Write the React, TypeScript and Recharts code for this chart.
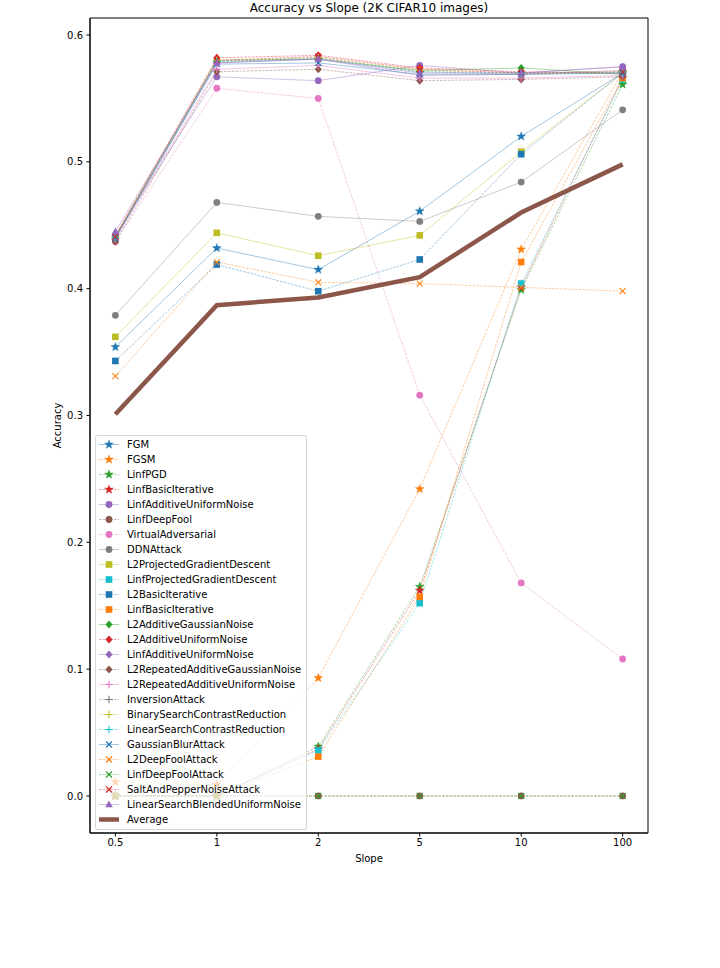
import React from 'react';
import { LineChart, Line, XAxis, YAxis, Legend, ReferenceArea } from 'recharts';

const slopeLabels = ['0.5', '1', '2', '5', '10', '100'];

const fgm = [0.354, 0.432, 0.415, 0.461, 0.520, 0.570];
const fgsm = [0.011, 0.009, 0.093, 0.242, 0.431, 0.571];
const linfPgd = [0, 0, 0.039, 0.165, 0.399, 0.561];
const linfBasicIterStar = [0, 0, 0.037, 0.162, 0.401, 0.566];
const linfAddUniformCircle = [0.442, 0.567, 0.564, 0.576, 0.570, 0.575];
const linfDeepFool = [0, 0, 0, 0, 0, 0];
const virtualAdversarial = [0.437, 0.558, 0.550, 0.316, 0.168, 0.108];
const ddnAttack = [0.379, 0.468, 0.457, 0.453, 0.484, 0.541];
const l2Pgd = [0.362, 0.444, 0.426, 0.442, 0.508, 0.570];
const linfPgdSquare = [0, 0, 0.036, 0.152, 0.404, 0.565];
const l2BasicIter = [0.343, 0.419, 0.398, 0.423, 0.506, 0.570];
const linfBasicIterSquare = [0, 0, 0.031, 0.157, 0.421, 0.566];
const l2AddGauss = [0.441, 0.580, 0.581, 0.572, 0.574, 0.569];
const l2AddUniform = [0.442, 0.582, 0.584, 0.574, 0.571, 0.570];
const linfAddUniformDiamond = [0.440, 0.578, 0.581, 0.568, 0.569, 0.572];
const l2RepGauss = [0.437, 0.571, 0.573, 0.564, 0.565, 0.567];
const l2RepUniform = [0.439, 0.573, 0.576, 0.566, 0.566, 0.568];
const inversion = [0.440, 0.579, 0.582, 0.571, 0.569, 0.570];
const binaryContrast = [0.441, 0.580, 0.582, 0.572, 0.570, 0.571];
const linearContrast = [0.440, 0.579, 0.581, 0.571, 0.570, 0.570];
const gaussBlur = [0.440, 0.577, 0.578, 0.569, 0.569, 0.570];
const l2DeepFoolAttack = [0.331, 0.421, 0.405, 0.404, 0.401, 0.398];
const linfDeepFoolAttack = [0, 0, 0, 0, 0, 0];
const saltPepper = [0.441, 0.580, 0.583, 0.573, 0.570, 0.571];
const linearBlended = [0.445, 0.578, 0.581, 0.570, 0.570, 0.575];
const average = [0.301, 0.387, 0.393, 0.409, 0.460, 0.498];

const yTicks = [0, 0.1, 0.2, 0.3, 0.4, 0.5, 0.6];

const C0 = '#1f77b4', C1 = '#ff7f0e', C2 = '#2ca02c', C3 = '#d62728', C4 = '#9467bd';
const C5 = '#8c564b', C6 = '#e377c2', C7 = '#7f7f7f', C8 = '#bcbd22', C9 = '#17becf';

type Mk = 'star' | 'circle' | 'square' | 'diamond' | 'plus' | 'x' | 'triangle';
interface SDef { name: string; values: number[]; color: string; dash: boolean; marker: Mk; }

const seriesDefs: SDef[] = [
  { name: 'FGM', values: fgm, color: C0, dash: false, marker: 'star' },
  { name: 'FGSM', values: fgsm, color: C1, dash: true, marker: 'star' },
  { name: 'LinfPGD', values: linfPgd, color: C2, dash: true, marker: 'star' },
  { name: 'LinfBasicIterative', values: linfBasicIterStar, color: C3, dash: true, marker: 'star' },
  { name: 'LinfAdditiveUniformNoise', values: linfAddUniformCircle, color: C4, dash: false, marker: 'circle' },
  { name: 'LinfDeepFool', values: linfDeepFool, color: C5, dash: true, marker: 'circle' },
  { name: 'VirtualAdversarial', values: virtualAdversarial, color: C6, dash: true, marker: 'circle' },
  { name: 'DDNAttack', values: ddnAttack, color: C7, dash: false, marker: 'circle' },
  { name: 'L2ProjectedGradientDescent', values: l2Pgd, color: C8, dash: false, marker: 'square' },
  { name: 'LinfProjectedGradientDescent', values: linfPgdSquare, color: C9, dash: true, marker: 'square' },
  { name: 'L2BasicIterative', values: l2BasicIter, color: C0, dash: true, marker: 'square' },
  { name: 'LinfBasicIterative', values: linfBasicIterSquare, color: C1, dash: true, marker: 'square' },
  { name: 'L2AdditiveGaussianNoise', values: l2AddGauss, color: C2, dash: false, marker: 'diamond' },
  { name: 'L2AdditiveUniformNoise', values: l2AddUniform, color: C3, dash: true, marker: 'diamond' },
  { name: 'LinfAdditiveUniformNoise', values: linfAddUniformDiamond, color: C4, dash: false, marker: 'diamond' },
  { name: 'L2RepeatedAdditiveGaussianNoise', values: l2RepGauss, color: C5, dash: true, marker: 'diamond' },
  { name: 'L2RepeatedAdditiveUniformNoise', values: l2RepUniform, color: C6, dash: false, marker: 'plus' },
  { name: 'InversionAttack', values: inversion, color: C7, dash: true, marker: 'plus' },
  { name: 'BinarySearchContrastReduction', values: binaryContrast, color: C8, dash: true, marker: 'plus' },
  { name: 'LinearSearchContrastReduction', values: linearContrast, color: C9, dash: true, marker: 'plus' },
  { name: 'GaussianBlurAttack', values: gaussBlur, color: C0, dash: false, marker: 'x' },
  { name: 'L2DeepFoolAttack', values: l2DeepFoolAttack, color: C1, dash: true, marker: 'x' },
  { name: 'LinfDeepFoolAttack', values: linfDeepFoolAttack, color: C2, dash: true, marker: 'x' },
  { name: 'SaltAndPepperNoiseAttack', values: saltPepper, color: C3, dash: true, marker: 'x' },
  { name: 'LinearSearchBlendedUniformNoise', values: linearBlended, color: C4, dash: false, marker: 'triangle' },
];

const data = slopeLabels.map((_, i) => {
  const row: any = { idx: i, avg: average[i] };
  seriesDefs.forEach((s, k) => { row['s' + k] = s.values[i]; });
  return row;
});

const FONT = '"DejaVu Sans", sans-serif';
const DASH = '2.6 1.2';
const LW = 0.7;
const LOP = 0.6;

function Marker({ type, cx, cy, color }: { type: Mk; cx: number; cy: number; color: string }) {
  switch (type) {
    case 'star': {
      const pts: string[] = [];
      for (let i = 0; i < 10; i++) {
        const r = i % 2 === 0 ? 4.6 : 1.9;
        const a = -Math.PI / 2 + (i * Math.PI) / 5;
        pts.push(`${cx + r * Math.cos(a)},${cy + r * Math.sin(a)}`);
      }
      return <polygon points={pts.join(' ')} fill={color} stroke={color} strokeWidth={0.4} />;
    }
    case 'circle':
      return <circle cx={cx} cy={cy} r={3.4} fill={color} />;
    case 'square':
      return <rect x={cx - 3.3} y={cy - 3.3} width={6.6} height={6.6} fill={color} />;
    case 'diamond':
      return <polygon points={`${cx},${cy - 4} ${cx + 3.6},${cy} ${cx},${cy + 4} ${cx - 3.6},${cy}`} fill={color} />;
    case 'plus':
      return (
        <g stroke={color} strokeWidth={1.1}>
          <line x1={cx - 3.8} y1={cy} x2={cx + 3.8} y2={cy} />
          <line x1={cx} y1={cy - 3.8} x2={cx} y2={cy + 3.8} />
        </g>
      );
    case 'x':
      return (
        <g stroke={color} strokeWidth={1.1}>
          <line x1={cx - 3} y1={cy - 3} x2={cx + 3} y2={cy + 3} />
          <line x1={cx - 3} y1={cy + 3} x2={cx + 3} y2={cy - 3} />
        </g>
      );
    case 'triangle':
      return <polygon points={`${cx},${cy - 4} ${cx + 3.8},${cy + 2.8} ${cx - 3.8},${cy + 2.8}`} fill={color} />;
  }
  return null;
}

function LegendBox() {
  return (
    <div
      style={{
        border: '1px solid rgba(204,204,204,0.8)',
        borderRadius: 3,
        background: 'rgba(255,255,255,0.7)',
        padding: '1px 4px 2px 3px',
        fontFamily: FONT,
        fontSize: 10,
        color: '#000',
        width: 203,
      }}
    >
      {seriesDefs.map((s, k) => (
        <div key={k} style={{ display: 'flex', alignItems: 'center', height: 15 }}>
          <svg width={20} height={15} style={{ display: 'block', flex: 'none' }}>
            <line x1={0} y1={7.5} x2={20} y2={7.5} stroke={s.color} strokeWidth={LW} strokeOpacity={LOP}
              strokeDasharray={s.dash ? DASH : undefined} />
            <Marker type={s.marker} cx={10} cy={7.5} color={s.color} />
          </svg>
          <span style={{ marginLeft: 8, whiteSpace: 'nowrap', lineHeight: '15px' }}>{s.name}</span>
        </div>
      ))}
      <div style={{ display: 'flex', alignItems: 'center', height: 15 }}>
        <svg width={20} height={15} style={{ display: 'block', flex: 'none' }}>
          <line x1={0} y1={7.5} x2={20} y2={7.5} stroke={C5} strokeWidth={4.5} />
        </svg>
        <span style={{ marginLeft: 8, whiteSpace: 'nowrap', lineHeight: '15px' }}>Average</span>
      </div>
    </div>
  );
}

const Y_MIN = -0.0292;
const Y_MAX = 0.6134;

export default function App() {
  return (
    <div style={{ position: 'absolute', left: 0, top: 0, width: 720, height: 968, background: '#fff' }}>
      <div
        style={{
          position: 'absolute', left: 90, top: 1, width: 558, textAlign: 'center',
          fontFamily: FONT, fontSize: 12, lineHeight: '15px', color: '#000',
        }}
      >
        Accuracy vs Slope (2K CIFAR10 images)
      </div>
      <LineChart width={720} height={968} data={data} margin={{ top: 18, right: 72, bottom: 95, left: 0 }}>
        <XAxis
          dataKey="idx"
          type="number"
          domain={[-0.25, 5.25]}
          ticks={[0, 1, 2, 3, 4, 5]}
          tickFormatter={(v: number) => slopeLabels[v]}
          height={40}
          tickSize={3.5}
          tickMargin={2}
          axisLine={{ stroke: '#000', strokeWidth: 1 }}
          tickLine={{ stroke: '#000', strokeWidth: 1 }}
          tick={{ fill: '#000', fontSize: 10, fontFamily: FONT }}
          label={{
            content: () => (
              <text x={369} y={862} textAnchor="middle" fontSize={10} fontFamily={FONT} fill="#000">Slope</text>
            ),
          }}
        />
        <YAxis
          type="number"
          domain={[Y_MIN, Y_MAX]}
          allowDataOverflow
          ticks={yTicks}
          tickFormatter={(v: number) => v.toFixed(1)}
          width={90}
          tickSize={3.5}
          tickMargin={3.5}
          axisLine={{ stroke: '#000', strokeWidth: 1 }}
          tickLine={{ stroke: '#000', strokeWidth: 1 }}
          tick={{ fill: '#000', fontSize: 10, fontFamily: FONT }}
          label={{
            content: () => (
              <text x={61} y={425.5} transform="rotate(-90 61 425.5)" textAnchor="middle" fontSize={10}
                fontFamily={FONT} fill="#000">Accuracy</text>
            ),
          }}
        />
        <ReferenceArea x1={-0.25} x2={5.25} y1={Y_MIN} y2={Y_MAX} fill="none" stroke="#000" strokeWidth={1}
          ifOverflow="visible" />
        {seriesDefs.map((s, k) => (
          <Line
            key={'s' + k}
            dataKey={'s' + k}
            name={s.name}
            type="linear"
            stroke={s.color}
            strokeWidth={LW}
            strokeOpacity={LOP}
            strokeDasharray={s.dash ? DASH : undefined}
            isAnimationActive={false}
            activeDot={false}
            dot={(p: any) => (
              <Marker key={`m${k}-${p.index}`} type={s.marker} cx={p.cx} cy={p.cy} color={s.color} />
            )}
          />
        ))}
        <Line dataKey="avg" name="Average" type="linear" stroke={C5} strokeWidth={4.5} dot={false}
          activeDot={false} isAnimationActive={false} />
        <Legend
          layout="vertical"
          align="center"
          verticalAlign="middle"
          wrapperStyle={{ position: 'absolute', left: 95, top: 435, width: 'auto', height: 'auto' }}
          content={() => <LegendBox />}
        />
      </LineChart>
    </div>
  );
}
